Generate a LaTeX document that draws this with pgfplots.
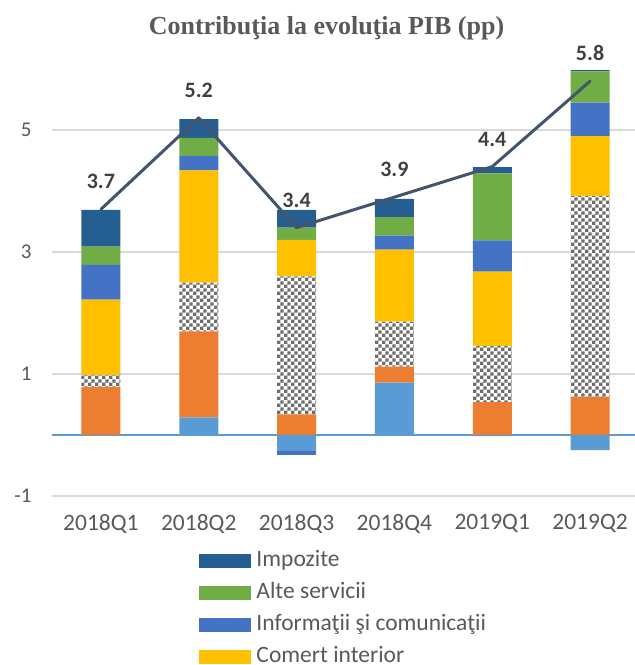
\documentclass[border=0pt]{standalone}
\usepackage{fontspec}
\setmainfont{Carlito}
\newfontfamily\titlefont{Liberation Serif}
\usepackage{pgfplots}
\pgfplotsset{compat=1.18}
\usetikzlibrary{patterns}
\definecolor{cImp}{HTML}{255E91}
\definecolor{cAlte}{HTML}{70AD47}
\definecolor{cInfo}{HTML}{4472C4}
\definecolor{cCom}{HTML}{FFC000}
\definecolor{cCheck}{HTML}{6E6E6E}
\definecolor{cOr}{HTML}{ED7D31}
\definecolor{cLB}{HTML}{5B9BD5}
\definecolor{cLine}{HTML}{44546A}
\definecolor{cGrid}{HTML}{D9D9D9}
\definecolor{cZero}{HTML}{5B9BD5}
\definecolor{cTxt}{HTML}{595959}
\definecolor{cLab}{HTML}{404040}
\pgfdeclarepatternformonly{mycheck}{\pgfpointorigin}{\pgfqpoint{6.8pt}{6.8pt}}{\pgfqpoint{6.8pt}{6.8pt}}{%
  \pgfpathrectangle{\pgfpointorigin}{\pgfqpoint{3.4pt}{3.4pt}}%
  \pgfpathrectangle{\pgfqpoint{3.4pt}{3.4pt}}{\pgfqpoint{3.4pt}{3.4pt}}%
  \pgfusepath{fill}}
\pgfplotsset{
  base/.style={
    scale only axis, width=587pt, height=457.5pt,
    xmin=-0.5, xmax=5.5, ymin=-1, ymax=6.5,
    at={(52pt,169pt)}, anchor=south west,
    /pgf/number format/assume math mode=true,
  },
}
\begin{document}
\begin{tikzpicture}
\path[use as bounding box] (0pt,0pt) rectangle (635pt,665pt);
% positive contributions
\begin{axis}[base, ybar stacked, bar width=39pt,
  xtick={0,1,2,3,4,5},
  xticklabels={2018Q1,2018Q2,2018Q3,2018Q4,2019Q1,2019Q2},
  ytick={-1,1,3,5},
  ymajorgrids, grid style={color=cGrid, line width=1.2pt},
  extra y ticks={0}, extra y tick labels={},
  extra y tick style={grid style={color=cZero, line width=1.6pt}},
  axis line style={draw=none}, major tick length=0pt,
  tick label style={color=cTxt},
  yticklabel style={font=\fontsize{21}{21}\selectfont, xshift=-17pt},
  xticklabel style={font=\fontsize{23.5}{23.5}\selectfont, yshift=-15pt},
]
\addplot[fill=cLB, draw=none] coordinates {(0,0) (1,0.29) (2,0) (3,0.86) (4,0) (5,0)};
\addplot[fill=cOr, draw=none] coordinates {(0,0.79) (1,1.41) (2,0.34) (3,0.26) (4,0.54) (5,0.62)};
\addplot[fill=white, draw=none, postaction={pattern=mycheck, pattern color=cCheck}] coordinates {(0,0.19) (1,0.80) (2,2.26) (3,0.74) (4,0.92) (5,3.30)};
\addplot[fill=cCom, draw=none] coordinates {(0,1.24) (1,1.84) (2,0.60) (3,1.18) (4,1.22) (5,0.98)};
\addplot[fill=cInfo, draw=none] coordinates {(0,0.57) (1,0.23) (2,0) (3,0.23) (4,0.51) (5,0.55)};
\addplot[fill=cAlte, draw=none] coordinates {(0,0.30) (1,0.30) (2,0.20) (3,0.30) (4,1.10) (5,0.51)};
\addplot[fill=cImp, draw=none] coordinates {(0,0.60) (1,0.31) (2,0.29) (3,0.30) (4,0.10) (5,0.02)};
\end{axis}
% negative contributions
\begin{axis}[base, ybar stacked, bar width=39pt, hide axis]
\addplot[fill=cLB, draw=none] coordinates {(0,0) (1,0) (2,-0.26) (3,0) (4,-0.02) (5,-0.25)};
\addplot[fill=cInfo, draw=none] coordinates {(0,0) (1,0) (2,-0.06) (3,0) (4,0) (5,0)};
\end{axis}
% total line and legend
\begin{axis}[base, hide axis,
  legend image code/.code={\fill[#1] (0pt,-7pt) rectangle (52pt,7pt);},
  legend style={at={(0.2504,-0.1150)}, anchor=north west, draw=none, fill=none,
    inner sep=0pt, outer sep=0pt, row sep=8pt,
    font=\fontsize{23.5}{23.5}\selectfont, text=cTxt,
    nodes={inner xsep=5.5pt, inner ysep=1pt, text height=17pt, text depth=5pt}},
  legend cell align=left,
  legend entries={Impozite, Alte servicii, Informaţii şi comunicaţii, Comert interior},
]
\addlegendimage{fill=cImp, draw=none}
\addlegendimage{fill=cAlte, draw=none}
\addlegendimage{fill=cInfo, draw=none}
\addlegendimage{fill=cCom, draw=none}
\addplot[color=cLine, line width=3pt, line cap=round, line join=round, mark=none,
  nodes near coords,
  nodes near coords style={font=\bfseries\fontsize{22}{22}\selectfont, text=cLab, yshift=15.5pt,
    /pgf/number format/.cd, fixed, fixed zerofill, precision=1}]
  coordinates {(0,3.7) (1,5.2) (2,3.4) (3,3.9) (4,4.4) (5,5.8)};
\end{axis}
\node[font=\titlefont\bfseries\fontsize{26}{26}\selectfont, text=cTxt] at (326.5pt,636.5pt) {Contribuţia la evoluţia PIB (pp)};
\end{tikzpicture}
\end{document}
